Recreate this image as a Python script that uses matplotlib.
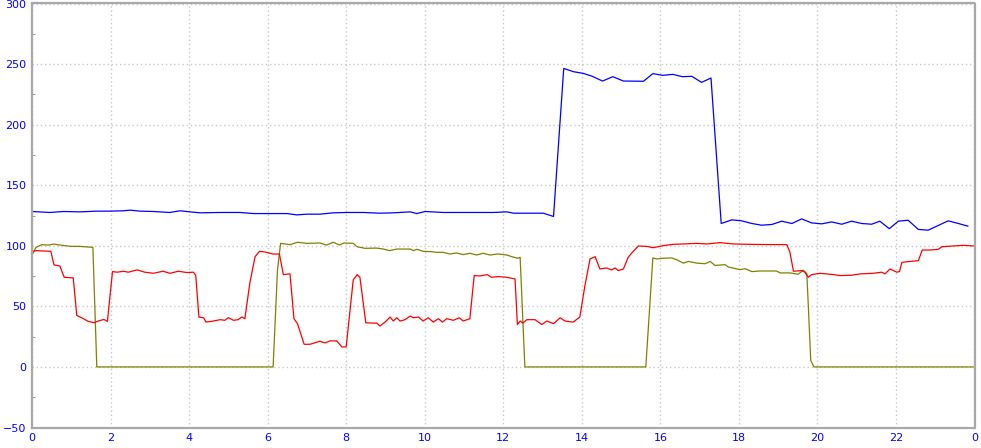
import matplotlib
matplotlib.use("Agg")
import matplotlib.pyplot as plt
from matplotlib.ticker import MultipleLocator, FuncFormatter

# blue series (hour, value)
blue_t = [0, 0.46, 0.8, 1.22, 1.65, 1.99, 2.33, 2.5, 2.75, 3.09, 3.51, 3.77, 4.02, 4.28,
          4.79, 5.30, 5.64, 5.98, 6.49, 6.74, 7.0, 7.33, 7.67, 8.01, 8.43, 8.86, 9.20,
          9.63, 9.80, 10.01, 10.48, 10.90, 11.33, 11.75, 12.09, 12.26, 13.02, 13.28,
          13.54, 13.79, 14.04, 14.25, 14.53, 14.79, 15.06, 15.57, 15.81, 16.06, 16.32,
          16.56, 16.80, 17.05, 17.29, 17.55, 17.82, 18.07, 18.33, 18.58, 18.84, 19.09,
          19.35, 19.6, 19.85, 20.11, 20.36, 20.62, 20.87, 21.13, 21.38, 21.59, 21.83,
          22.06, 22.31, 22.57, 22.82, 23.08, 23.33, 23.59, 23.83]
blue_v = [128.3, 127.5, 128.3, 128.0, 128.6, 128.6, 128.9, 129.4, 128.6, 128.3, 127.5,
          128.9, 128.0, 127.2, 127.5, 127.5, 126.6, 126.6, 126.6, 125.5, 126.1, 126.1,
          127.2, 127.5, 127.5, 126.9, 127.2, 128.0, 126.6, 128.3, 127.5, 127.5, 127.5,
          127.5, 128.0, 126.9, 126.9, 124.2,
          246.4, 243.7, 242.3, 240.1, 236.0, 239.6, 236.0, 235.8, 242.1, 240.7, 241.5,
          239.6, 239.9, 234.9, 238.5, 118.4, 121.4, 120.6, 118.4, 117.0, 117.6, 120.3,
          118.4, 122.2, 118.9, 118.1, 119.7, 117.8, 120.3, 118.4, 117.8, 120.3, 114.1,
          120.3, 121.1, 113.5, 112.9, 116.8, 120.6, 118.4, 116.2]

# red series
red_t = [0, 0.12, 0.48, 0.56, 0.71, 0.82, 1.05, 1.14, 1.31, 1.43, 1.58, 1.69, 1.83, 1.92,
         2.05, 2.17, 2.33, 2.45, 2.68, 2.87, 3.09, 3.34, 3.51, 3.73, 3.94, 4.11, 4.17,
         4.25, 4.37, 4.43, 4.62, 4.79, 4.91, 5.0, 5.13, 5.25, 5.34, 5.42, 5.55, 5.68,
         5.79, 5.93, 6.14, 6.30, 6.40, 6.57, 6.67, 6.76, 6.93, 7.08, 7.33, 7.46, 7.59,
         7.76, 7.89, 8.00, 8.18, 8.28, 8.35, 8.50, 8.69, 8.78, 8.86, 8.99, 9.12, 9.20,
         9.29, 9.37, 9.50, 9.63, 9.71, 9.84, 9.96, 10.09, 10.22, 10.35, 10.45, 10.56,
         10.73, 10.88, 10.98, 11.15, 11.26, 11.40, 11.59, 11.70, 11.87, 12.09, 12.30,
         12.36, 12.43, 12.50, 12.60, 12.81, 12.98, 13.11, 13.28, 13.45, 13.57, 13.78,
         13.95, 14.08, 14.21, 14.34, 14.46, 14.63, 14.76, 14.85, 14.93, 15.06, 15.18,
         15.31, 15.44, 15.65, 15.82, 16.07, 16.33, 16.59, 16.93, 17.18, 17.52, 17.86,
         18.28, 18.71, 19.22, 19.30, 19.39, 19.60, 19.68, 19.77, 19.85, 20.07, 20.41,
         20.58, 20.87, 21.09, 21.42, 21.64, 21.72, 21.85, 22.02, 22.09, 22.15, 22.27,
         22.57, 22.67, 22.87, 23.08, 23.17, 23.46, 23.72, 24.0]
red_v = [95.4, 96.0, 95.4, 84.2, 83.3, 74.0, 73.5, 42.5, 39.8, 37.6, 36.5, 37.9, 39.2,
         37.6, 78.7, 78.2, 79.0, 78.2, 80.1, 78.2, 77.3, 79.0, 77.3, 79.0, 77.9, 78.2,
         75.5, 41.1, 40.6, 37.0, 37.9, 39.0, 38.5, 40.7, 38.5, 39.0, 41.2, 39.8, 69.9,
         91.0, 95.4, 94.9, 93.2, 93.2, 76.2, 76.8, 39.8, 35.7, 18.7, 18.7, 21.2, 19.8,
         21.5, 21.5, 16.5, 16.5, 71.8, 76.2, 74.0, 36.4, 36.2, 36.2, 33.7, 37.0, 41.2,
         37.9, 40.6, 37.9, 39.0, 42.0, 40.6, 41.2, 37.9, 40.6, 37.0, 39.8, 37.0, 39.8,
         38.5, 40.6, 37.9, 39.8, 75.4, 75.1, 76.2, 74.0, 74.6, 74.0, 72.6, 35.0, 37.9,
         36.2, 39.0, 39.0, 35.0, 37.9, 35.7, 40.6, 37.9, 37.0, 41.2, 67.2, 89.1, 91.0,
         80.9, 81.7, 80.1, 81.7, 79.5, 80.9, 90.5, 95.4, 99.8, 99.5, 98.4, 100.1, 101.2,
         101.5, 102.0, 101.5, 102.6, 101.5, 101.2, 101.0, 101.0, 94.6, 79.0, 79.5, 78.2,
         74.0, 76.2, 77.3, 76.2, 75.4, 75.7, 76.8, 77.3, 78.2, 76.8, 80.9, 78.2, 78.7,
         86.3, 86.8, 87.7, 96.5, 96.5, 97.1, 99.2, 99.8, 100.4, 99.8]

# olive series
olive_t = [0, 0.03, 0.1, 0.25, 0.42, 0.56, 0.71, 1.01, 1.22, 1.55, 1.65, 6.14, 6.25,
           6.33, 6.57, 6.76, 7.0, 7.33, 7.5, 7.67, 7.83, 7.94, 8.18, 8.28, 8.48, 8.78,
           8.95, 9.10, 9.29, 9.63, 9.71, 9.81, 9.96, 10.14, 10.31, 10.47, 10.64, 10.81,
           10.98, 11.15, 11.32, 11.49, 11.66, 11.87, 12.09, 12.22, 12.36, 12.43, 12.55,
           15.63, 15.81, 15.91, 16.07, 16.29, 16.42, 16.59, 16.71, 16.93, 17.14, 17.27,
           17.39, 17.65, 17.73, 18.03, 18.16, 18.33, 18.54, 18.96, 19.05, 19.30, 19.51,
           19.64, 19.73, 19.77, 19.83, 19.91, 24.0]
olive_v = [94.6, 93.8, 98.7, 100.9, 100.6, 101.4, 100.6, 99.5, 99.5, 98.7, 0, 0, 79.5,
           102.0, 100.9, 102.9, 102.0, 102.3, 100.6, 102.9, 100.6, 102.3, 102.0, 99.2,
           97.9, 98.1, 97.3, 96.0, 97.3, 97.3, 96.0, 97.1, 95.4, 95.2, 94.6, 94.6, 93.2,
           94.1, 92.7, 93.8, 92.4, 93.8, 92.4, 93.2, 92.4, 91.0, 89.7, 90.5, 0,
           0, 90.0, 89.1, 89.7, 90.0, 88.4, 85.7, 87.1, 85.7, 85.2, 87.1, 83.8, 84.4,
           82.5, 80.3, 81.1, 78.7, 79.2, 79.2, 77.6, 77.6, 76.5, 79.8, 77.1, 49.3, 5.5,
           0, 0]

fig = plt.figure(figsize=(9.81, 4.48), dpi=100)
ax = fig.add_axes([32 / 981, 20.5 / 448, 942.5 / 981, 424 / 448])

ax.plot(olive_t, olive_v, color="#808000", lw=0.9)
ax.plot(red_t, red_v, color="#ff0000", lw=0.9)
ax.plot(blue_t, blue_v, color="#0000ff", lw=0.9)

ax.set_xlim(0, 24)
ax.set_ylim(-50, 300)
ax.xaxis.set_major_locator(MultipleLocator(2))
ax.yaxis.set_major_locator(MultipleLocator(50))
ax.yaxis.set_minor_locator(MultipleLocator(25))
ax.xaxis.set_major_formatter(FuncFormatter(lambda v, p: "%d" % (int(round(v)) % 24)))

ax.grid(True, which="major", color="#c8c8c8", linestyle=(0, (1, 2)), lw=1)
for s in ax.spines.values():
    s.set_color("#a8a8a8")
    s.set_linewidth(1.6)

ax.tick_params(axis="both", which="major", length=0, labelcolor="#0000ff",
               labelsize=8, pad=4)
ax.tick_params(axis="y", which="minor", length=2, direction="in", color="#888888")

plt.savefig("out.png", dpi=100)
